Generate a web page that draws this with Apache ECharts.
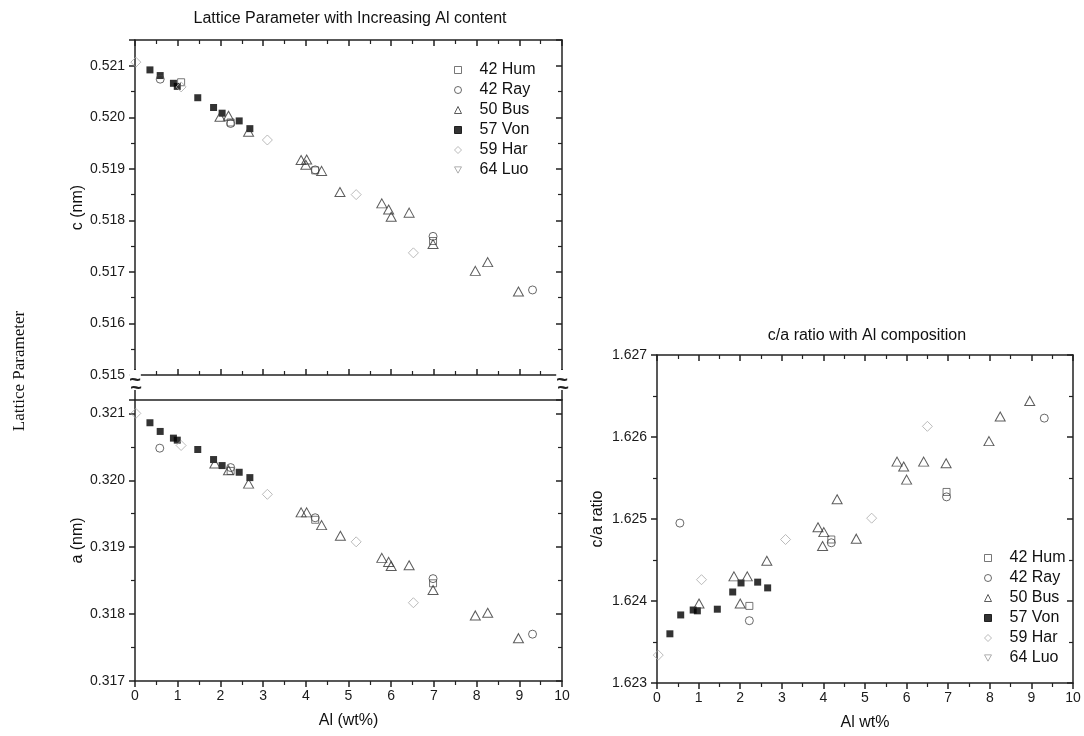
<!DOCTYPE html>
<html><head><meta charset="utf-8">
<script src="https://cdn.jsdelivr.net/npm/echarts@6/dist/echarts.min.js"></script>
<style>html,body{margin:0;padding:0;background:#fff}#chart{width:1084px;height:736px}</style>
</head><body><div id="chart"></div>
<script>
// ---- data: [Al wt%, value] ----
const seriesNames = ['42 Hum', '42 Ray', '50 Bus', '57 Von', '59 Har', '64 Luo'];

// c lattice parameter (nm)
const humC = [[1.08,0.52068],[2.24,0.51990],[4.22,0.51897],[6.98,0.51760]];
const rayC = [[0.59,0.52074],[2.24,0.51988],[4.22,0.51898],[6.98,0.51769],[9.31,0.51665]];
const busC = [[1.99,0.52001],[2.19,0.52003],[2.66,0.51972],[3.89,0.51917],[4.02,0.51918],[4.00,0.51908],[4.37,0.51896],[4.80,0.51855],[5.78,0.51833],[5.94,0.51821],[6.00,0.51807],[6.42,0.51815],[6.98,0.51754],[7.97,0.51702],[8.26,0.51719],[8.98,0.51662]];
const vonC = [[0.35,0.52092],[0.59,0.52081],[0.90,0.52066],[0.99,0.52060],[1.47,0.52038],[1.84,0.52019],[2.04,0.52008],[2.44,0.51993],[2.69,0.51978]];
const harC = [[0.02,0.52107],[1.08,0.52059],[3.10,0.51956],[5.18,0.51850],[6.52,0.51737]];
const luoC = [];

// a lattice parameter (nm)
const humA = [[2.24,0.32014],[4.22,0.31941],[6.98,0.31846]];
const rayA = [[0.58,0.32048],[2.24,0.32019],[4.22,0.31944],[6.98,0.31853],[9.31,0.31770]];
const busA = [[1.87,0.32025],[2.19,0.32015],[2.66,0.31995],[3.89,0.31952],[4.02,0.31952],[4.37,0.31933],[4.81,0.31917],[5.78,0.31884],[5.94,0.31878],[6.00,0.31872],[6.42,0.31873],[6.98,0.31836],[7.97,0.31798],[8.26,0.31802],[8.98,0.31764]];
const vonA = [[0.35,0.32086],[0.59,0.32073],[0.90,0.32063],[0.99,0.32060],[1.47,0.32046],[1.84,0.32031],[2.04,0.32022],[2.44,0.32012],[2.69,0.32004]];
const harA = [[0.02,0.32100],[1.08,0.32052],[3.10,0.31979],[5.18,0.31908],[6.52,0.31817]];
const luoA = [];

// c/a ratio
const humR = [[2.22,1.62394],[4.19,1.62475],[6.96,1.62533]];
const rayR = [[0.55,1.62495],[2.22,1.62376],[4.19,1.62471],[6.96,1.62527],[9.31,1.62623]];
const busR = [[1.01,1.62397],[1.85,1.62430],[2.00,1.62397],[2.17,1.62430],[2.64,1.62449],[3.87,1.62490],[4.01,1.62484],[3.98,1.62467],[4.33,1.62524],[4.79,1.62476],[5.77,1.62570],[5.93,1.62564],[6.00,1.62548],[6.41,1.62570],[6.95,1.62568],[7.98,1.62595],[8.25,1.62625],[8.96,1.62644]];
const vonR = [[0.31,1.62360],[0.57,1.62383],[0.87,1.62389],[0.97,1.62388],[1.45,1.62390],[1.82,1.62411],[2.02,1.62422],[2.42,1.62423],[2.66,1.62416]];
const harR = [[0.03,1.62334],[1.07,1.62426],[3.09,1.62475],[5.16,1.62501],[6.50,1.62613]];
const luoR = [];

// axis ranges / tick labels
const xRange = [0, 10];
const cRange = [0.515, 0.5215];
const aRange = [0.317, 0.3212];
const rRange = [1.623, 1.627];

// ---- styles ----
const FONT = '"Liberation Sans", Arial, sans-serif';
const styles = {
  '42 Hum': {symbol: 'rect', symbolSize: 7, itemStyle: {color: 'rgba(255,255,255,0)', borderColor: '#555', borderWidth: 1}},
  '42 Ray': {symbol: 'circle', symbolSize: 8, itemStyle: {color: 'rgba(255,255,255,0)', borderColor: '#444', borderWidth: 1}},
  '50 Bus': {symbol: 'triangle', symbolSize: [10, 9], itemStyle: {color: 'rgba(255,255,255,0)', borderColor: '#333', borderWidth: 1}},
  '57 Von': {symbol: 'rect', symbolSize: 7, itemStyle: {color: '#000', borderColor: '#000', borderWidth: 0}},
  '59 Har': {symbol: 'diamond', symbolSize: 10, itemStyle: {color: 'rgba(255,255,255,0)', borderColor: '#aaa', borderWidth: 1}},
  '64 Luo': {symbol: 'path://M0,0 L10,0 L5,9 Z', symbolSize: [10, 8], itemStyle: {color: 'rgba(255,255,255,0)', borderColor: '#999', borderWidth: 1}}
};
const dataC = [humC, rayC, busC, vonC, harC, luoC];
const dataA = [humA, rayA, busA, vonA, harA, luoA];
const dataR = [humR, rayR, busR, vonR, harR, luoR];

const series = [];
[[dataC, 0], [dataA, 2], [dataR, 4]].forEach(([set, axIdx]) => {
  set.forEach((d, i) => {
    const n = seriesNames[i];
    series.push(Object.assign({
      type: 'scatter', name: n, xAxisIndex: axIdx, yAxisIndex: axIdx,
      data: d, z: n === '57 Von' ? 3 : 4, emphasis: {disabled: true}
    }, styles[n]));
  });
});

const lineStyle = {color: '#222', width: 1.5};
const thousandth = v => Math.abs(v * 1000 - Math.round(v * 1000)) < 1e-6 ? v.toFixed(3) : '';

function xAx(grid, pos, o) {
  return Object.assign({
    type: 'value', gridIndex: grid, position: pos, min: xRange[0], max: xRange[1], interval: 1,
    axisLine: {show: true, onZero: false, lineStyle},
    axisTick: {show: true, inside: true, length: 6, lineStyle},
    minorTick: {show: true, splitNumber: 2, length: 4, lineStyle: {color: '#222', width: 1.2}},
    axisLabel: {show: false},
    splitLine: {show: false}, minorSplitLine: {show: false}
  }, o || {});
}
function yAx(grid, pos, rng, o) {
  return Object.assign({
    type: 'value', gridIndex: grid, position: pos, min: rng[0], max: rng[1], interval: 0.001,
    axisLine: {show: true, onZero: false, lineStyle},
    axisTick: {show: true, inside: true, length: 6, lineStyle},
    minorTick: {show: true, splitNumber: 2, length: 4, lineStyle: {color: '#222', width: 1.2}},
    axisLabel: {show: false},
    splitLine: {show: false}, minorSplitLine: {show: false}
  }, o || {});
}
const tickLabel = {show: true, fontSize: 14, color: '#1a1a1a', fontFamily: FONT};
const nameStyle = {fontSize: 16, color: '#111', fontFamily: FONT};

const xAxis = [
  xAx(0, 'bottom'),
  xAx(0, 'top'),
  xAx(1, 'bottom', {axisTick: {show: true, inside: false, length: 6, lineStyle}, minorTick: {show: true, splitNumber: 2, length: 4, lineStyle: {color: '#222', width: 1.2}},
    axisLabel: Object.assign({margin: 8}, tickLabel), name: 'Al (wt%)', nameLocation: 'middle', nameGap: 32, nameTextStyle: nameStyle}),
  xAx(1, 'top', {axisTick: {show: false}, minorTick: {show: false}}),
  xAx(2, 'bottom', {axisTick: {show: true, inside: false, length: 6, lineStyle}, minorTick: {show: true, splitNumber: 2, length: 4, lineStyle: {color: '#222', width: 1.2}},
    axisLabel: Object.assign({margin: 8}, tickLabel), name: 'Al wt%', nameLocation: 'middle', nameGap: 32, nameTextStyle: nameStyle}),
  xAx(2, 'top')
];
const leftOpts = (name, gap) => ({
  axisTick: {show: true, inside: false, length: 6, lineStyle},
  minorTick: {show: true, splitNumber: 2, length: 4, lineStyle: {color: '#222', width: 1.2}},
  axisLabel: Object.assign({margin: 10, formatter: thousandth}, tickLabel),
  name: name, nameLocation: 'middle', nameGap: gap, nameTextStyle: nameStyle
});
const yAxis = [
  yAx(0, 'left', cRange, leftOpts('c (nm)', 47)),
  yAx(0, 'right', cRange),
  yAx(1, 'left', aRange, leftOpts('a (nm)', 47)),
  yAx(1, 'right', aRange),
  yAx(2, 'left', rRange, leftOpts('c/a ratio', 51)),
  yAx(2, 'right', rRange)
];

const legendBase = {
  orient: 'vertical', itemWidth: 7, itemHeight: 7, itemGap: 4, selectedMode: false,
  itemStyle: {borderWidth: 1},
  textStyle: {fontSize: 16, lineHeight: 16, color: '#111', fontFamily: FONT, padding: [0, 0, 0, 13]},
  data: seriesNames
};

const breakMarks = [];
[135, 562].forEach(x => {
  breakMarks.push({type: 'line', shape: {x1: x, y1: 375, x2: x, y2: 400}, style: {stroke: '#222', lineWidth: 1.5}, z: 10});
  breakMarks.push({type: 'text', x: x, y: 380, style: {text: '~', font: 'bold 20px ' + FONT, fill: '#222', align: 'center', verticalAlign: 'middle', backgroundColor: '#fff'}, z: 11});
  breakMarks.push({type: 'text', x: x + 1, y: 388, style: {text: '~', font: 'bold 20px ' + FONT, fill: '#222', align: 'center', verticalAlign: 'middle'}, z: 12});
});

const option = {
  animation: false,
  backgroundColor: '#fff',
  grid: [
    {left: 135, right: 522, top: 40, height: 335},
    {left: 135, right: 522, top: 400, height: 281},
    {left: 657, right: 11, top: 355, height: 328}
  ],
  xAxis, yAxis,
  legend: [
    Object.assign({left: 449, top: 57}, legendBase),
    Object.assign({left: 979, top: 545}, legendBase)
  ],
  graphic: [
    {type: 'text', x: 350, y: 19, style: {text: 'Lattice Parameter with Increasing Al content', font: '16px ' + FONT, fill: '#111', align: 'center', verticalAlign: 'middle'}},
    {type: 'text', x: 867, y: 336, style: {text: 'c/a ratio with Al composition', font: '16px ' + FONT, fill: '#111', align: 'center', verticalAlign: 'middle'}},
    {type: 'text', x: 20, y: 371, rotation: Math.PI / 2, style: {text: 'Lattice Parameter', font: '17px "Liberation Serif", "Times New Roman", serif', fill: '#111', align: 'center', verticalAlign: 'middle'}}
  ].concat(breakMarks),
  series
};
echarts.init(document.getElementById('chart'), null, {renderer: 'canvas'}).setOption(option);
</script>
</body></html>
